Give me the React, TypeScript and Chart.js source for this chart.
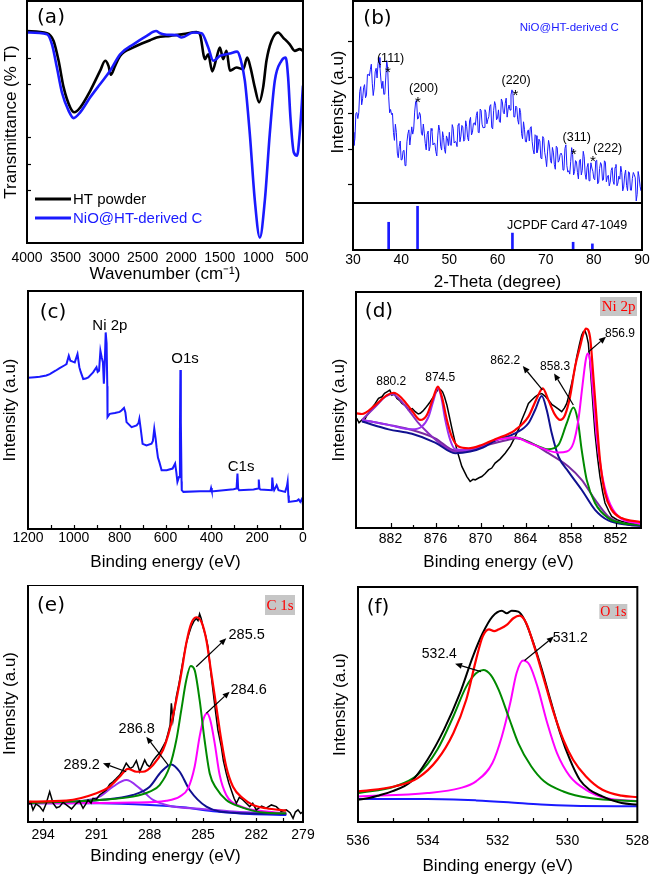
import React, { useEffect, useRef } from 'react';
import { Chart, registerables } from 'chart.js';

Chart.register(...registerables);

type Pair = [number, number];

// ---------------- (a) FTIR ----------------
const A_X_TICKS = [4000, 3500, 3000, 2500, 2000, 1500, 1000, 500];
const A_Y_MARKS = [76.6, 65.7, 43.7, 32.7, 21.7];
const A_LEGEND = ['HT powder', 'NiO@HT-derived C'];
const A_HT_POWDER: Pair[] = [
  [4000, 87.6], [3741, 86.7], [3655, 83.5], [3590, 75.3], [3525, 64.3], [3439, 56.0], [3387, 54.0],
  [3310, 56.0], [3180, 62.9], [3051, 71.2], [2986, 75.3], [2943, 73.2], [2913, 69.5], [2857, 73.2],
  [2792, 77.3], [2620, 80.8], [2404, 83.8], [2318, 84.9], [2145, 85.6], [1972, 86.3], [1800, 87.2],
  [1757, 86.3], [1692, 76.0], [1649, 78.0], [1597, 70.9], [1541, 76.6], [1498, 80.8], [1455, 76.0],
  [1412, 79.4], [1368, 71.2], [1282, 72.5], [1196, 71.8], [1144, 76.6], [1101, 72.5], [1045, 64.3],
  [989, 58.1], [937, 64.3], [894, 75.3], [829, 83.5], [743, 87.0], [678, 84.9], [592, 82.1],
  [527, 79.4], [463, 80.1], [420, 79.4],
];
const A_NIO_C: Pair[] = [
  [4000, 87.0], [3741, 86.3], [3676, 82.1], [3612, 72.5], [3547, 62.2], [3461, 54.7], [3396, 51.6],
  [3310, 54.0], [3180, 60.2], [3051, 65.7], [2922, 71.2], [2792, 78.0], [2620, 82.1], [2447, 85.6],
  [2326, 87.6], [2274, 86.7], [2231, 86.3], [2145, 86.0], [2059, 85.9], [1994, 84.9], [1843, 87.0],
  [1735, 86.7], [1649, 80.8], [1584, 75.3], [1498, 77.3], [1368, 78.3], [1274, 79.1], [1230, 76.0],
  [1174, 67.0], [1110, 45.1], [1045, 17.6], [980, 2.2], [915, 17.6], [851, 45.1], [786, 67.0],
  [700, 75.3], [644, 76.6], [613, 68.4], [583, 51.9], [540, 37.5], [497, 36.1], [463, 45.1], [420, 65.0],
];

// ---------------- (b) XRD ----------------
const B_X_TICKS = [30, 40, 50, 60, 70, 80, 90];
const B_Y_MARKS = [9.2, 26.8, 44.4, 62.5, 80.3];
const XRD_START = 30;
const XRD_STEP = 0.2;
const XRD_COUNTS = [
  35, 28.5, 31.9, 44.4, 44.8, 41.8, 44.7, 55.2, 57.6, 48.6,
  51.6, 57.1, 58.6, 52.1, 53.5, 63.6, 63.7, 62.9, 66, 68.7,
  59.3, 53.2, 57, 64.9, 66.7, 61.9, 69, 72, 67, 60.9,
  56.7, 60.3, 53.8, 53.9, 61.9, 70.5, 67, 52.9, 44.7, 46.3,
  43.8, 44.4, 34.9, 31, 39, 34.9, 24.7, 22.4, 28, 30.7,
  21.3, 21.5, 25.7, 26.1, 18.5, 19.4, 30.3, 34.3, 36.2, 28.7,
  33.2, 37.7, 34.1, 36.6, 45, 50, 51, 41.5, 42, 44.8,
  43.5, 34.5, 33.5, 39.1, 34.6, 29.5, 26.3, 34, 35.6, 25.8,
  28, 36.9, 35.8, 28.7, 29.6, 29.5, 25.4, 23.3, 33.2, 38.6,
  36, 28.1, 26.2, 35.3, 32.4, 26.5, 24.6, 33.2, 31.8, 28.4,
  35, 28.8, 28.5, 38.8, 37, 29.7, 30.4, 30.2, 27.9, 38.7,
  39.4, 30.3, 33.1, 38.4, 37.7, 30.6, 31.4, 40.7, 38, 32.4,
  30.7, 40.6, 42.4, 33.7, 35, 39.4, 39.7, 38.5, 43.3, 45.2,
  35, 34.8, 46.5, 45.8, 39, 37.2, 37.4, 46.2, 44.9, 39.2,
  41.4, 42.7, 47.9, 48.7, 37.4, 36.7, 45.9, 50.2, 48.4, 41.2,
  41.9, 46.1, 40.2, 39.9, 51.5, 50.2, 44.9, 44.1, 49.2, 51.9,
  42.5, 46.5, 48.5, 46, 53.5, 56, 54.5, 42.6, 42.6, 48,
  47.3, 41.2, 39, 46.9, 44.7, 34.3, 31.8, 40.2, 36.5, 30.4,
  30.2, 35.2, 36.2, 30.7, 37.2, 37.8, 30.3, 26.3, 24.3, 33.8,
  33.3, 24.9, 26.5, 31.6, 30.7, 22.3, 21.8, 32.9, 32, 25.1,
  22.2, 18, 25.7, 31, 28.2, 21, 19.7, 27.5, 25.2, 19,
  16.7, 28.1, 27.4, 20.2, 21, 23.9, 24.7, 23.5, 16.3, 16.7,
  27, 28.8, 18.5, 15.3, 16, 14.3, 20.6, 27.4, 24.1, 13.9,
  15.6, 21, 20.3, 15.1, 11.9, 20.8, 21.6, 13.9, 16.2, 25.6,
  22.9, 14.3, 11.7, 17.7, 19.6, 11, 14.4, 19.9, 17.3, 15.7,
  12.1, 11.5, 20.8, 21.2, 9.5, 10.3, 17.1, 20, 18.8, 11.2,
  11.5, 20.9, 20.2, 10.5, 12.8, 13.7, 8.5, 10.3, 16.1, 17.5,
  10.8, 9.2, 17.6, 19.1, 8.5, 9.9, 13.3, 11.8, 18.2, 15.1,
  6, 7.9, 13.8, 16.3, 8.7, 6.1, 15.5, 15, 6.4, 6.3,
  12.2, 15.1, 14, 12.5, 1, 4.3, 15.6, 12.9, 8.2, 6.1,
  16,
];
const CARD_ANGLES = [37.4, 43.4, 63.1, 75.7, 79.7];
const CARD_INTENSITY = [59, 93, 36, 16.5, 13];
const B_HKL = ['(111)', '(200)', '(220)', '(311)', '(222)'];
const B_STAR_POS: Pair[] = [[37.26, 66.3], [43.5, 51.5], [63.7, 54.8], [75.8, 25.7], [79.8, 22.2]];
const B_HKL_POS: Pair[] = [[37.81, 71.7], [44.65, 56.9], [63.86, 60.5], [76.44, 32.6], [82.87, 26.8]];

// ---------------- (c) XPS survey ----------------
const C_X_TICKS = [1200, 1000, 800, 600, 400, 200, 0];
const C_X_MARKS = [1100, 1000, 900, 800, 700, 600, 500, 400, 300, 200, 100];
const C_SURVEY: Pair[] = [
  [1200, 63.5], [1170, 63.8], [1149, 64], [1120, 64.5], [1105, 65.1], [1080, 66.5], [1062, 67.6],
  [1040, 68.8], [1032, 69.3], [1022, 72.8], [1015, 70.7], [1005, 70.3], [996, 70], [984, 73.5],
  [976, 68], [970, 66], [959, 63], [948, 63.2], [937, 63.7], [916, 65.8], [901, 68], [896, 66],
  [890, 66.5], [884, 74.9], [878, 72], [873, 70], [869, 61], [865, 70], [861, 82.6], [857, 78],
  [854, 60], [853, 47], [843, 48.4], [821, 48.7], [800, 49.2], [792, 49.8], [781, 50.9], [775, 49],
  [770, 44.9], [748, 42.8], [726, 43.5], [718, 44.5], [714, 46.3], [708, 42], [700, 35.8], [683, 35.1],
  [661, 35.8], [655, 37], [649, 42.1], [643, 38], [639, 34.4], [633, 30], [627, 28.2], [617, 24.7],
  [595, 24.7], [569, 25.4], [558, 27.5], [553, 24], [548, 19.8], [541, 21.9], [537, 40], [535, 66.8],
  [533, 45], [530, 20], [529, 16.3], [522, 15.6], [449, 15.9], [404, 16.0], [401, 17.2], [398, 16.0],
  [390, 15.9], [303, 16.7], [290, 17], [286, 23.3], [283, 17], [279, 16.3], [216, 16.6], [196, 17],
  [193, 20.8], [190, 17], [186, 16.6], [136, 16.3], [134, 21.6], [130, 17.5], [126, 16.3], [115, 18.4],
  [107, 16.3], [78, 15.6], [70, 18], [67, 19.8], [64, 14], [62, 11.4], [26, 11.9], [19, 12.4],
  [12, 11.4], [4, 12.8], [0, 10],
];

// ---------------- (d) Ni 2p ----------------
const D_X_TICKS = [882, 876, 870, 864, 858, 852];
const D_X_MINOR = [879, 873, 867, 861, 855];
const D_RAW: Pair[] = [
  [886.5, 46.5], [886.2, 44.6], [885.8, 45.8], [885.58, 45.1], [885.2, 47.4], [884.91, 48.6], [884.5, 50.8],
  [884.03, 52.8], [883.6, 54.9], [883.14, 55.6], [882.8, 57.1], [882.47, 57.7], [882.1, 58.4], [881.81, 56.3],
  [881.5, 56.9], [881.14, 54.9], [880.8, 54.1], [880.47, 52.8], [880.0, 51.9], [879.59, 50.0], [879.1, 50.6],
  [878.7, 49.3], [878.3, 48.3], [878.03, 48.6], [877.7, 49.5], [877.37, 50.7], [877.0, 52.2], [876.7, 53.5],
  [876.3, 55.4], [876.04, 57.0], [875.8, 58.0], [875.59, 59.2], [875.3, 58.6], [875.06, 57.7], [874.8, 55.6],
  [874.48, 52.1], [873.82, 42.3], [873.15, 33.1], [872.49, 26.1], [871.82, 21.8], [871.38, 19.7], [871.0, 20.6],
  [870.71, 20.4], [870.2, 21.3], [869.82, 21.8], [869.4, 23.0], [868.93, 24.6], [868.5, 25.4], [868.05, 27.5],
  [867.4, 29.2], [866.71, 31.7], [866.0, 34.8], [865.38, 38.7], [864.9, 42.0], [864.5, 45.8], [864.0, 49.6],
  [863.61, 52.8], [863.2, 54.1], [862.72, 55.6], [862.3, 56.5], [861.83, 57.0], [861.4, 55.9], [860.95, 54.2],
  [860.5, 52.4], [860.06, 51.4], [859.6, 50.4], [859.17, 49.3], [858.8, 50.9], [858.5, 52.8], [858.2, 56.4],
  [857.84, 61.3], [857.5, 66.2], [857.17, 72.5], [856.8, 77.9], [856.51, 81.7], [856.3, 83.1], [856.06, 83.5],
  [855.85, 81.6], [855.62, 78.2], [855.4, 69.8], [855.18, 59.9], [854.95, 49.5], [854.73, 40.1], [854.4, 30.0],
  [854.07, 21.8], [853.7, 15.0], [853.4, 10.6], [852.9, 7.2], [852.51, 4.9], [851.8, 3.5], [851.18, 2.8],
  [850.0, 2.0], [848.96, 1.4], [848.61, 1.0],
];
const D_FIT: Pair[] = [
  [886.5, 48.6], [885.8, 48.3], [884.03, 52.1], [882.47, 56.3], [881.58, 57.3], [880.47, 54.9], [879.14, 49.7],
  [878.03, 45.8], [877.15, 47.9], [876.26, 55.6], [875.68, 59.9], [875.15, 55.6], [874.48, 45.8], [873.82, 38.7],
  [872.93, 34.5], [871.6, 33.8], [869.82, 35.2], [868.05, 37.6], [865.38, 41.5], [863.61, 47.2], [862.5, 54.9],
  [861.7, 59.2], [860.95, 54.2], [860.06, 47.9], [859.39, 45.8], [858.73, 47.9], [858.06, 55.6], [857.39, 68.3],
  [856.73, 76.8], [856.28, 82.4], [855.93, 84.5], [855.4, 81.0], [854.95, 64.1], [854.51, 45.8], [854.07, 28.9],
  [853.4, 14.8], [852.51, 7.7], [851.18, 4.2], [848.61, 2.5],
];
const D_PEAK_8569: Pair[] = [
  [868.05, 37.3], [865.38, 38.3], [863.61, 36.2], [860.95, 32.8], [859.61, 32.0], [858.5, 32.4], [857.62, 35.9],
  [856.95, 45.8], [856.42, 59.9], [855.97, 71.1], [855.71, 73.9], [855.4, 71.1], [854.95, 55.6], [854.51, 38.7],
  [853.84, 23.2], [852.96, 12.0], [851.62, 4.9], [848.61, 1.7],
];
const D_PEAK_8583: Pair[] = [
  [868.05, 37.6], [865.38, 38.3], [862.72, 35.2], [860.95, 33.4], [859.61, 35.2], [858.5, 44.4], [857.62, 51.1],
  [857.04, 45.8], [856.51, 33.1], [855.84, 20.4], [854.73, 10.6], [852.96, 4.2], [851.18, 2.1], [848.61, 1.3],
];
const D_PEAK_8622: Pair[] = [
  [885.8, 45.1], [882.25, 41.8], [879.14, 39.9], [876.04, 36.2], [873.37, 31.7], [871.38, 32.4], [869.6, 34.2],
  [868.05, 37.0], [865.38, 40.1], [863.61, 44.4], [862.72, 50.0], [861.83, 55.9], [861.17, 50.0], [860.5, 40.1],
  [859.61, 30.3], [858.28, 23.9], [856.51, 16.2], [854.73, 7.7], [852.96, 3.2], [850.29, 1.4], [848.61, 1.0],
];
const D_PEAK_8745: Pair[] = [
  [885.8, 45.8], [882.25, 43.7], [879.14, 41.8], [877.81, 43.0], [876.92, 47.2], [876.26, 54.2], [875.68, 59.2],
  [875.24, 55.6], [874.7, 45.8], [874.04, 37.3], [873.37, 33.4], [872.04, 33.1], [869.82, 34.8], [866.71, 38.7],
];
const D_PEAK_8802: Pair[] = [
  [885.8, 45.8], [884.03, 51.4], [882.69, 55.6], [881.81, 56.8], [880.92, 54.9], [879.59, 50.0], [878.26, 44.4],
  [876.92, 40.1], [875.15, 35.2], [873.37, 32.4], [871.6, 32.8], [869.6, 34.5],
];
const D_BACKGROUND: Pair[] = [
  [885.8, 45.8], [882.25, 43.7], [879.14, 41.5], [876.04, 38.0], [873.37, 32.8], [871.38, 33.4], [869.6, 34.8],
  [867.82, 36.2], [865.83, 37.7], [865.38, 38.0], [863.61, 36.6], [860.95, 31.7], [858.28, 26.1], [856.51, 20.4],
  [854.73, 12.0], [852.96, 4.9], [850.29, 1.4], [848.61, 1.0],
];

// ---------------- (e) C 1s ----------------
const E_X_TICKS = [294, 291, 288, 285, 282, 279];
const E_X_MINOR = [294, 292.5, 291, 289.5, 288, 286.5, 285, 283.5, 282, 280.5];
const E_RAW: Pair[] = [
  [294.85, 7.2], [294.7, 8.4], [294.57, 5.1], [294.4, 7.6], [294.19, 6.5], [294.0, 4.6], [293.82, 7.9],
  [293.63, 12.8], [293.44, 7.9], [293.25, 6.0], [293.07, 6.5], [292.88, 8.3], [292.69, 7.2], [292.4, 5.5],
  [292.13, 7.9], [291.95, 8.8], [291.75, 5.8], [291.6, 7.5], [291.47, 9.3], [291.3, 8.0], [291.19, 10.0],
  [291.0, 9.6], [290.82, 11.4], [290.6, 12.6], [290.44, 13.5], [290.25, 15.9], [290.07, 17.0], [289.9, 18.2],
  [289.69, 19.8], [289.5, 22.1], [289.32, 24.8], [289.1, 22.6], [288.94, 23.3], [288.75, 25.9], [288.56, 21.2],
  [288.4, 24.0], [288.28, 26.2], [288.15, 24.2], [288.0, 23.3], [287.8, 26.0], [287.63, 27.6], [287.45, 29.1],
  [287.25, 31.8], [287.1, 33.9], [286.97, 37.4], [286.85, 41.0], [286.78, 50.1], [286.69, 43.0], [286.6, 47.5],
  [286.5, 52.9], [286.35, 58.4], [286.22, 64.1], [286.1, 69.1], [285.94, 75.4], [285.8, 79.2], [285.66, 82.4],
  [285.5, 84.8], [285.38, 85.9], [285.28, 85.0], [285.19, 87.8], [285.1, 85.9], [285.0, 82.4], [284.85, 78.5],
  [284.72, 74.0], [284.6, 65.8], [284.44, 55.7], [284.3, 47.0], [284.16, 38.8], [283.97, 31.8], [283.85, 25.8],
  [283.69, 20.5], [283.55, 16.6], [283.41, 13.5], [283.25, 10.0], [283.12, 7.9], [282.95, 10.5], [282.75, 9.3],
  [282.55, 7.8], [282.37, 6.5], [282.2, 7.9], [282.0, 5.1], [281.7, 6.7], [281.44, 5.8], [281.15, 7.2],
  [280.87, 6.5], [280.6, 4.5], [280.31, 5.1], [280.1, 3.9], [279.93, 1.5], [279.8, 4.2], [279.65, 5.1],
  [279.5, 3.6], [279.37, 4.4],
];
const E_FIT: Pair[] = [
  [294.85, 8.6], [292.69, 9.0], [291.0, 12.1], [290.25, 14.9], [289.69, 19.1], [289.22, 22.4], [288.75, 21.2],
  [288.38, 21.2], [287.81, 24.1], [287.25, 30.4], [286.88, 38.8], [286.5, 51.5], [286.22, 62.7], [285.94, 75.4],
  [285.66, 83.8], [285.38, 86.4], [285.09, 84.5], [284.81, 76.8], [284.53, 62.7], [284.25, 48.7], [283.97, 34.6],
  [283.69, 23.3], [283.31, 14.9], [282.75, 10.0], [282.19, 7.2], [281.44, 5.8], [280.31, 4.8],
];
const E_PEAK_2855: Pair[] = [
  [294.85, 7.9], [290.82, 9.3], [288.94, 10.7], [288.0, 12.8], [287.44, 15.6], [286.88, 23.3], [286.5, 34.6],
  [286.22, 47.3], [285.94, 59.9], [285.69, 65.8], [285.47, 64.1], [285.19, 51.5], [284.91, 34.6], [284.62, 20.5],
  [284.25, 14.2], [283.69, 9.3], [282.94, 6.5], [281.44, 3.9], [280.31, 3.7],
];
const E_PEAK_2846: Pair[] = [
  [294.85, 7.9], [288.94, 8.2], [287.06, 9.0], [286.31, 10.7], [285.84, 14.2], [285.47, 23.3], [285.19, 36.0],
  [284.96, 43.7], [284.77, 45.9], [284.59, 43.0], [284.34, 33.2], [284.06, 19.8], [283.69, 11.4], [282.94, 6.8],
  [281.44, 4.4], [280.31, 3.7],
];
const E_PEAK_2868: Pair[] = [
  [294.85, 7.9], [290.82, 9.3], [288.94, 11.4], [288.0, 14.9], [287.35, 21.2], [286.78, 24.3], [286.31, 21.2],
  [285.75, 13.5], [284.81, 6.5], [283.31, 3.9], [280.31, 3.4],
];
const E_PEAK_2892: Pair[] = [
  [294.85, 7.9], [291.75, 9.0], [290.82, 10.7], [290.07, 14.9], [289.32, 17.7], [288.56, 14.2], [287.81, 9.3],
  [286.69, 6.5], [285.19, 5.6], [283.31, 4.4], [280.31, 3.4],
];
const E_BACKGROUND: Pair[] = [
  [294.85, 7.9], [290.82, 7.9], [288.0, 7.2], [286.13, 6.2], [284.25, 4.4], [282.37, 3.4], [280.31, 3.0],
];

// ---------------- (f) O 1s ----------------
const F_X_TICKS = [536, 534, 532, 530, 528];
const F_X_MINOR = [535, 534, 533, 532, 531, 530, 529];
const F_RAW: Pair[] = [
  [536.0, 9.5], [535.68, 10.2], [535.4, 11.3], [535.03, 13.0], [534.47, 17.3], [534.01, 26.5], [533.54, 39.2],
  [533.08, 54.8], [532.71, 70.4], [532.43, 80.3], [532.15, 87.4], [531.88, 89.9], [531.74, 88.8], [531.6, 89.9],
  [531.41, 89.5], [531.23, 86.0], [531.04, 78.9], [530.76, 66.1], [530.49, 52.0], [530.21, 37.8], [529.93, 26.5],
  [529.65, 18.0], [529.37, 13.7], [529.0, 10.9], [528.72, 9.2], [528.45, 8.1], [528.0, 7.4],
];
const F_FIT: Pair[] = [
  [536.0, 13.0], [534.93, 15.2], [534.29, 18.7], [533.73, 26.5], [533.27, 37.8], [532.9, 52.0], [532.62, 69.0],
  [532.43, 78.9], [532.25, 82.0], [532.1, 81.2], [531.97, 82.0], [531.74, 83.9], [531.55, 86.7], [531.37, 87.8],
  [531.18, 84.6], [530.95, 74.6], [530.67, 60.5], [530.39, 46.3], [530.12, 35.0], [529.84, 26.5], [529.47, 19.4],
  [529.0, 13.7], [528.45, 11.2], [528.0, 10.6],
];
const F_PEAK_5324: Pair[] = [
  [536.0, 12.3], [534.93, 15.2], [534.29, 20.1], [533.73, 30.7], [533.27, 44.9], [532.9, 57.6], [532.62, 63.3],
  [532.41, 64.7], [532.2, 62.6], [531.97, 56.2], [531.69, 44.9], [531.41, 33.6], [531.04, 23.7], [530.67, 17.3],
  [530.12, 13.0], [529.37, 10.2], [528.0, 8.8],
];
const F_PEAK_5312: Pair[] = [
  [536.0, 10.9], [534.01, 12.3], [533.08, 14.4], [532.62, 17.3], [532.15, 25.1], [531.88, 36.4], [531.64, 50.6],
  [531.46, 63.3], [531.27, 68.7], [531.09, 66.9], [530.86, 57.6], [530.58, 42.1], [530.3, 29.3], [529.93, 19.4],
  [529.47, 13.7], [528.91, 10.2], [528.0, 8.8],
];
const F_BACKGROUND: Pair[] = [
  [536.0, 9.8], [534.01, 9.8], [532.62, 9.2], [531.69, 8.4], [530.76, 7.4], [529.84, 6.9], [528.0, 6.7],
];

// ---------------- styling ----------------
const SANS = "'Liberation Sans', Arial, sans-serif";
const SERIF = "'Liberation Serif', 'DejaVu Serif', serif";
const PANEL_FAMILY = "'DejaVu Sans', sans-serif";
const TICK_FONT = { family: "'Liberation Sans Narrow', 'Liberation Sans', Arial, sans-serif", size: 14 };
const TITLE_FONT = { family: SANS, size: 17 };
const BLUE = '#1a1aff';
const RED = '#ff0000';
const MAGENTA = '#ff00ff';
const GREEN = '#008a00';
const NAVY = '#101090';
const VIOLET = '#9a30f0';
const PURPLE = '#8a2cc0';
const BG_PURPLE = '#7a2aa0';

const pts = (a: Pair[]) => a.map(([x, y]) => ({ x, y }));

function lineDs(label: string, data: Pair[], color: string, width: number, smooth: boolean, yAxisID = 'y') {
  return {
    type: 'line', label, data: pts(data), borderColor: color, backgroundColor: color, borderWidth: width,
    pointRadius: 0, pointHoverRadius: 0, fill: false, yAxisID,
    tension: smooth ? 0.4 : 0, cubicInterpolationMode: smooth ? 'monotone' : 'default',
  };
}

function xScale(o: { min: number; max: number; reverse?: boolean; ticks: number[]; height: number; pad: number; title: string; titlePad: number }) {
  return {
    type: 'linear', position: 'bottom', min: o.min, max: o.max, reverse: !!o.reverse, offset: false,
    afterBuildTicks: (s: any) => { s.ticks = o.ticks.map((v) => ({ value: Math.min(Math.max(v, o.min), o.max) })); },
    afterFit: (s: any) => { s.height = o.height; },
    ticks: { autoSkip: false, maxRotation: 0, minRotation: 0, padding: o.pad, color: '#000', font: TICK_FONT,
      callback: (_v: any, i: number) => String(o.ticks[i]) },
    grid: { display: false, drawTicks: false },
    border: { display: false },
    title: { display: true, text: o.title, color: '#000', font: TITLE_FONT, padding: { top: 0, bottom: o.titlePad } },
  };
}

function yScale(o: { width: number; title?: string; titlePad?: number; extra?: any }) {
  return {
    type: 'linear', position: 'left', min: 0, max: 100,
    afterFit: (s: any) => { s.width = o.width; },
    ticks: { display: false },
    grid: { display: false, drawTicks: false },
    border: { display: false },
    title: { display: !!o.title, text: o.title || '', color: '#000', font: TITLE_FONT, padding: { top: o.titlePad || 0, bottom: 0 } },
    ...(o.extra || {}),
  };
}

interface Note { x: number; y: number; text: string; size: number; color?: string; axis?: string; dy?: number; family?: string }
interface Arrow { from: Pair; to: Pair }
interface TickSet { axis: string; values: number[]; len: number; outward?: boolean }
interface Decor {
  label: string;
  labelOffset: Pair;
  ticks?: TickSet[];
  notes?: Note[];
  arrows?: Arrow[];
  badge?: { text: string; right: number; top: number; w: number; h: number; size: number };
  legend?: { text: string; color: string }[];
  separator?: string;
}

function makeDecor(d: Decor) {
  return {
    id: 'decor',
    afterDraw(chart: any) {
      const { ctx, chartArea: ca, scales } = chart;
      const xs = scales.x;
      ctx.save();
      ctx.strokeStyle = '#000';
      ctx.lineWidth = 1.2;
      for (const t of d.ticks || []) {
        const sc = scales[t.axis];
        for (const v of t.values) {
          const p = Math.round(sc.getPixelForValue(v)) + 0.5;
          ctx.beginPath();
          if (sc.isHorizontal()) {
            ctx.moveTo(p, ca.bottom);
            ctx.lineTo(p, ca.bottom + (t.outward ? t.len : -t.len));
          } else {
            ctx.moveTo(ca.left, p);
            ctx.lineTo(ca.left + (t.outward ? -t.len : t.len), p);
          }
          ctx.stroke();
        }
      }
      ctx.lineWidth = 2;
      ctx.strokeRect(ca.left, ca.top, ca.right - ca.left, ca.bottom - ca.top);
      if (d.separator) {
        const y = scales[d.separator].top;
        ctx.beginPath();
        ctx.moveTo(ca.left, y);
        ctx.lineTo(ca.right, y);
        ctx.stroke();
      }
      ctx.lineWidth = 1.2;
      ctx.fillStyle = '#000';
      for (const a of d.arrows || []) {
        const ys = scales.y;
        const x1 = xs.getPixelForValue(a.from[0]);
        const y1 = ys.getPixelForValue(a.from[1]);
        const x2 = xs.getPixelForValue(a.to[0]);
        const y2 = ys.getPixelForValue(a.to[1]);
        const ang = Math.atan2(y2 - y1, x2 - x1);
        const hl = 7;
        const hw = 3;
        const bx = x2 - hl * Math.cos(ang);
        const by = y2 - hl * Math.sin(ang);
        ctx.beginPath();
        ctx.moveTo(x1, y1);
        ctx.lineTo(bx, by);
        ctx.stroke();
        ctx.beginPath();
        ctx.moveTo(x2, y2);
        ctx.lineTo(bx + hw * Math.sin(ang), by - hw * Math.cos(ang));
        ctx.lineTo(bx - hw * Math.sin(ang), by + hw * Math.cos(ang));
        ctx.closePath();
        ctx.fill();
      }
      ctx.textAlign = 'center';
      ctx.textBaseline = 'middle';
      for (const n of d.notes || []) {
        ctx.font = `${n.size}px ${n.family || SANS}`;
        ctx.fillStyle = n.color || '#000';
        ctx.fillText(n.text, xs.getPixelForValue(n.x), scales[n.axis || 'y'].getPixelForValue(n.y) + (n.dy || 0));
      }
      if (d.badge) {
        const b = d.badge;
        const bx = ca.right - b.right - b.w;
        const by = ca.top + b.top;
        ctx.fillStyle = '#c6c6c6';
        ctx.fillRect(bx, by, b.w, b.h);
        ctx.fillStyle = RED;
        ctx.font = `${b.size}px ${SERIF}`;
        ctx.fillText(b.text, bx + b.w / 2, by + b.h / 2 + 1);
      }
      if (d.legend) {
        d.legend.forEach((item, i) => {
          const y = ca.top + 198 + i * 19;
          ctx.strokeStyle = item.color;
          ctx.lineWidth = 3;
          ctx.beginPath();
          ctx.moveTo(ca.left + 8, y);
          ctx.lineTo(ca.left + 44, y);
          ctx.stroke();
          ctx.fillStyle = item.color;
          ctx.font = `15px ${SANS}`;
          ctx.textAlign = 'left';
          ctx.fillText(item.text, ca.left + 46, y + 1);
          ctx.textAlign = 'center';
        });
      }
      ctx.fillStyle = '#000';
      ctx.font = `20px ${PANEL_FAMILY}`;
      ctx.fillText(d.label, ca.left + d.labelOffset[0], ca.top + d.labelOffset[1]);
      ctx.restore();
    },
  };
}

function baseOptions(pad: { top: number; right: number }, scales: any) {
  return {
    responsive: false,
    animation: false,
    events: [],
    layout: { padding: { left: 0, right: pad.right, top: pad.top, bottom: 0 } },
    plugins: { legend: { display: false }, tooltip: { enabled: false }, title: { display: false } },
    scales,
  };
}

function configA() {
  return {
    type: 'line',
    data: { datasets: [
      lineDs(A_LEGEND[1], A_NIO_C, BLUE, 2.6, true),
      lineDs(A_LEGEND[0], A_HT_POWDER, '#000000', 2.6, true),
    ] },
    options: baseOptions({ top: 1, right: 27 }, {
      x: xScale({ min: 420, max: 4000, reverse: true, ticks: A_X_TICKS, height: 47, pad: 7, title: 'Wavenumber (cm\u207B\u00B9)', titlePad: 5 }),
      y: yScale({ width: 27, title: 'Transmittance (% T)', titlePad: 1 }),
    }),
    plugins: [makeDecor({
      label: '(a)', labelOffset: [24, 17],
      ticks: [{ axis: 'y', values: A_Y_MARKS, len: 4 }],
      legend: [{ text: A_LEGEND[0], color: '#000' }, { text: A_LEGEND[1], color: BLUE }],
    })],
  };
}

function configB() {
  const xrd = XRD_COUNTS.map((v, i) => [XRD_START + i * XRD_STEP, v] as Pair);
  const notes: Note[] = [];
  B_STAR_POS.forEach((p) => notes.push({ x: p[0], y: p[1], text: '*', size: 15, dy: 4 }));
  B_HKL_POS.forEach((p, i) => notes.push({ x: p[0], y: p[1], text: B_HKL[i], size: 12.5 }));
  notes.push({ x: 74.9, y: 86.8, text: 'NiO@HT-derived C', size: 11.5, color: BLUE });
  notes.push({ x: 74.46, y: 51.4, text: 'JCPDF Card 47-1049', size: 12.5, axis: 'y2' });
  return {
    type: 'line',
    data: { datasets: [
      lineDs('NiO@HT-derived C', xrd, BLUE, 1, false),
      { type: 'bar', label: 'JCPDF Card 47-1049', data: CARD_ANGLES.map((a, i) => ({ x: a, y: CARD_INTENSITY[i] })),
        yAxisID: 'y2', backgroundColor: BLUE, borderWidth: 0, barThickness: 2, grouped: false },
    ] },
    options: baseOptions({ top: 1, right: 18 }, {
      x: xScale({ min: 30, max: 90, ticks: B_X_TICKS, height: 40, pad: 2, title: '2-Theta (degree)', titlePad: -3 }),
      y: yScale({ width: 23, title: 'Intensity (a.u)', titlePad: -2, extra: { stack: 'xrd', stackWeight: 202, weight: 2 } }),
      y2: yScale({ width: 23, extra: { stack: 'xrd', stackWeight: 47, weight: 1 } }),
    }),
    plugins: [makeDecor({
      label: '(b)', labelOffset: [24.5, 18],
      ticks: [{ axis: 'y', values: B_Y_MARKS, len: 5, outward: true }],
      separator: 'y2',
      notes,
    })],
  };
}

function configC() {
  return {
    type: 'line',
    data: { datasets: [lineDs('Survey', C_SURVEY, BLUE, 2, false)] },
    options: baseOptions({ top: 1, right: 27 }, {
      x: xScale({ min: 0, max: 1200, reverse: true, ticks: C_X_TICKS, height: 56, pad: 1, title: 'Binding energy (eV)', titlePad: 12 }),
      y: yScale({ width: 28, title: 'Intensity (a.u)', titlePad: 0.3 }),
    }),
    plugins: [makeDecor({
      label: '(c)', labelOffset: [25, 22],
      ticks: [{ axis: 'x', values: C_X_MARKS, len: 4 }],
      notes: [
        { x: 843, y: 85.4, text: 'Ni 2p', size: 15 },
        { x: 515, y: 71.5, text: 'O1s', size: 15 },
        { x: 270, y: 25.9, text: 'C1s', size: 15 },
      ],
    })],
  };
}

function configD() {
  return {
    type: 'line',
    data: { datasets: [
      lineDs('Fit', D_FIT, RED, 2.2, true),
      lineDs('856.9', D_PEAK_8569, MAGENTA, 2, true),
      lineDs('858.3', D_PEAK_8583, GREEN, 2, true),
      lineDs('862.2', D_PEAK_8622, NAVY, 2, true),
      lineDs('874.5', D_PEAK_8745, VIOLET, 2, true),
      lineDs('880.2', D_PEAK_8802, PURPLE, 2, true),
      lineDs('Background', D_BACKGROUND, BG_PURPLE, 2, true),
      lineDs('Raw', D_RAW, '#000000', 1.5, false),
    ] },
    options: baseOptions({ top: 2, right: 19 }, {
      x: xScale({ min: 848.6, max: 886.6, reverse: true, ticks: D_X_TICKS, height: 57, pad: 3, title: 'Binding energy (eV)', titlePad: 12 }),
      y: yScale({ width: 26, title: 'Intensity (a.u)', titlePad: -0.7 }),
    }),
    plugins: [makeDecor({
      label: '(d)', labelOffset: [23, 20],
      ticks: [{ axis: 'x', values: D_X_TICKS, len: 5 }, { axis: 'x', values: D_X_MINOR, len: 3 }],
      notes: [
        { x: 881.9, y: 61.8, text: '880.2', size: 12 },
        { x: 875.37, y: 63.5, text: '874.5', size: 12 },
        { x: 866.7, y: 70.7, text: '862.2', size: 12 },
        { x: 860.06, y: 68.2, text: '858.3', size: 12 },
        { x: 851.4, y: 82.5, text: '856.9', size: 12 },
      ],
      arrows: [
        { from: [861.74, 58.5], to: [864.36, 68.6] },
        { from: [857.62, 52.1], to: [860.19, 65.5] },
        { from: [855.62, 74.6], to: [853.27, 81.0] },
      ],
      badge: { text: 'Ni 2p', right: 4, top: 5, w: 37, h: 19, size: 15 },
    })],
  };
}

function configE() {
  return {
    type: 'line',
    data: { datasets: [
      lineDs('Fit', E_FIT, RED, 2.2, true),
      lineDs('Raw', E_RAW, '#000000', 1.5, false),
      lineDs('285.5', E_PEAK_2855, GREEN, 2, true),
      lineDs('284.6', E_PEAK_2846, MAGENTA, 2, true),
      lineDs('286.8', E_PEAK_2868, NAVY, 2, true),
      lineDs('289.2', E_PEAK_2892, VIOLET, 2, true),
      lineDs('Background', E_BACKGROUND, BLUE, 2, true),
    ] },
    options: baseOptions({ top: 0, right: 27 }, {
      x: xScale({ min: 279.37, max: 294.85, reverse: true, ticks: E_X_TICKS, height: 57, pad: 5, title: 'Binding energy (eV)', titlePad: 12 }),
      y: yScale({ width: 28, title: 'Intensity (a.u)', titlePad: 0.3 }),
    }),
    plugins: [makeDecor({
      label: '(e)', labelOffset: [23, 21],
      ticks: [{ axis: 'x', values: E_X_MINOR, len: 4 }],
      notes: [
        { x: 282.54, y: 78.9, text: '285.5', size: 14.5 },
        { x: 282.43, y: 55.7, text: '284.6', size: 14.5 },
        { x: 288.73, y: 39.2, text: '286.8', size: 14.5 },
        { x: 291.83, y: 24.1, text: '289.2', size: 14.5 },
      ],
      arrows: [
        { from: [285.38, 65.5], to: [283.69, 77.5] },
        { from: [284.81, 45.9], to: [283.5, 55] },
        { from: [286.97, 24.1], to: [288.19, 36] },
        { from: [289.32, 21.2], to: [290.63, 24.8] },
      ],
      badge: { text: 'C 1s', right: 8, top: 10, w: 30, h: 20, size: 15 },
    })],
  };
}

function configF() {
  return {
    type: 'line',
    data: { datasets: [
      lineDs('Fit', F_FIT, RED, 2.2, true),
      lineDs('Raw', F_RAW, '#000000', 2, true),
      lineDs('532.4', F_PEAK_5324, GREEN, 2, true),
      lineDs('531.2', F_PEAK_5312, MAGENTA, 2, true),
      lineDs('Background', F_BACKGROUND, BLUE, 2, true),
    ] },
    options: baseOptions({ top: 2, right: 14 }, {
      x: xScale({ min: 528, max: 536, reverse: true, ticks: F_X_TICKS, height: 57, pad: 11, title: 'Binding energy (eV)', titlePad: 2 }),
      y: yScale({ width: 28, title: 'Intensity (a.u)', titlePad: 0.3 }),
    }),
    plugins: [makeDecor({
      label: '(f)', labelOffset: [20, 21],
      ticks: [{ axis: 'x', values: F_X_MINOR, len: 4 }],
      notes: [
        { x: 533.67, y: 71.5, text: '532.4', size: 14 },
        { x: 529.92, y: 78.3, text: '531.2', size: 14 },
      ],
      arrows: [
        { from: [532.48, 64], to: [533.22, 67.3] },
        { from: [531.23, 68.7], to: [530.39, 78.9] },
      ],
      badge: { text: 'O 1s', right: 10, top: 17, w: 28, h: 15, size: 14 },
    })],
  };
}

function Panel(props: { left: number; top: number; width: number; height: number; build: () => any }) {
  const ref = useRef<HTMLCanvasElement>(null);
  useEffect(() => {
    const chart = new Chart(ref.current as HTMLCanvasElement, props.build());
    return () => chart.destroy();
  }, []);
  return (
    <canvas
      ref={ref}
      width={props.width}
      height={props.height}
      style={{ position: 'absolute', left: props.left, top: props.top, width: props.width, height: props.height, display: 'block' }}
    />
  );
}

export default function App() {
  return (
    <div style={{ position: 'absolute', left: 0, top: 0, width: 660, height: 879, background: '#ffffff', overflow: 'hidden' }}>
      <Panel left={0} top={0} width={330} height={290} build={configA} />
      <Panel left={330} top={0} width={330} height={290} build={configB} />
      <Panel left={0} top={290} width={330} height={295} build={configC} />
      <Panel left={330} top={290} width={330} height={295} build={configD} />
      <Panel left={0} top={585} width={330} height={294} build={configE} />
      <Panel left={330} top={585} width={330} height={294} build={configF} />
    </div>
  );
}
